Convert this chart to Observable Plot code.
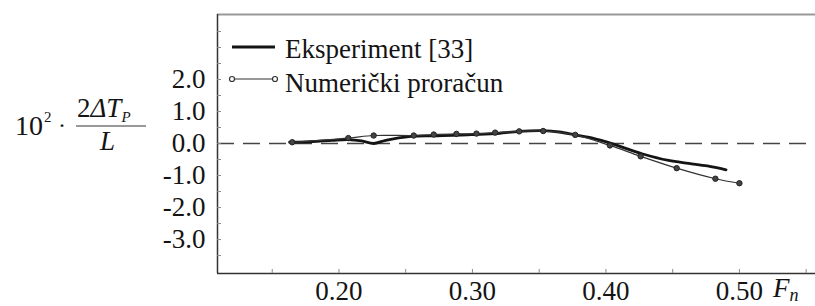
<!DOCTYPE html>
<html><head><meta charset="utf-8">
<script src="https://cdn.jsdelivr.net/npm/d3@7"></script>
<script src="https://cdn.jsdelivr.net/npm/@observablehq/plot@0.6"></script>
<style>body{margin:0;background:#fff} svg{display:block} svg text{font-family:"Liberation Serif","Times New Roman",serif !important}</style>
</head><body><div id="chart"></div>
<script>
// Eksperiment [33] (thick line)
const expFn  = [0.163, 0.180, 0.195, 0.207, 0.217, 0.226, 0.235, 0.254, 0.270, 0.290, 0.305, 0.317, 0.335, 0.353, 0.365, 0.377, 0.390, 0.397, 0.410, 0.427, 0.447, 0.462, 0.476, 0.490];
const expVal = [0.04, 0.06, 0.10, 0.12, 0.08, 0.00, 0.10, 0.22, 0.24, 0.26, 0.29, 0.31, 0.38, 0.40, 0.36, 0.27, 0.17, 0.09, -0.08, -0.32, -0.53, -0.62, -0.70, -0.82];
// Numerički proračun (thin line with dots)
const numFn  = [0.165, 0.207, 0.226, 0.256, 0.271, 0.288, 0.303, 0.317, 0.335, 0.353, 0.377, 0.403, 0.426, 0.453, 0.482, 0.500];
const numVal = [0.04, 0.17, 0.25, 0.25, 0.28, 0.30, 0.31, 0.34, 0.38, 0.39, 0.27, -0.06, -0.40, -0.77, -1.10, -1.24];

const xTickLabels = [0.20, 0.30, 0.40, 0.50];
const yTickLabels = [2, 1, 0, -1, -2, -3];
const xMinorTicks = [0.15, 0.20, 0.25, 0.30, 0.35, 0.40, 0.45, 0.50, 0.55];
const yMinorTicks = [-3.5, -3, -2.5, -2, -1.5, -1, -0.5, 0, 0.5, 1, 1.5, 2, 2.5, 3, 3.5];
const seriesNames = ["Eksperiment [33]", "Numerički proračun"];
const xDomain = [0.109, 0.557];
const yDomain = [-4.06, 4.03];

const exp = expFn.map((x, i) => ({x, y: expVal[i]}));
const num = numFn.map((x, i) => ({x, y: numVal[i]}));

const font = "Liberation Serif, Times New Roman, serif";
const ink = "#141414";

const chart = Plot.plot({
  width: 815, height: 306,
  marginLeft: 217, marginRight: 0, marginTop: 14, marginBottom: 33,
  style: {fontFamily: font, background: "white", color: ink},
  x: {domain: xDomain, label: null},
  y: {domain: yDomain, label: null},
  marks: [
    Plot.ruleY([0], {stroke: "#444", strokeWidth: 1.5, strokeDasharray: "17,9"}),
    Plot.ruleY([yDomain[1]], {stroke: "#999", strokeWidth: 2}),
    Plot.ruleX([xDomain[0]], {stroke: "#333", strokeWidth: 1.5}),
    Plot.ruleY([yDomain[0]], {stroke: "#333", strokeWidth: 1.5}),
    Plot.axisY(yMinorTicks, {tickSize: 4, dx: 4, tickFormat: () => "", stroke: "#888", label: null}),
    Plot.axisX(xMinorTicks, {tickSize: 4, dy: -4, tickFormat: () => "", stroke: "#888", label: null}),
    Plot.axisY(yTickLabels, {tickSize: 0, tickPadding: 12, fontSize: 27, tickFormat: d => d.toFixed(1), label: null}),
    Plot.axisX(xTickLabels, {tickSize: 0, tickPadding: 7, fontSize: 27, tickFormat: d => d.toFixed(2), label: null}),
    Plot.line(exp, {x: "x", y: "y", curve: "catmull-rom", stroke: ink, strokeWidth: 2.8}),
    Plot.line(num, {x: "x", y: "y", curve: "catmull-rom", stroke: "#333", strokeWidth: 1.2}),
    Plot.dot(num, {x: "x", y: "y", r: 2.7, fill: "#444", stroke: "#222", strokeWidth: 1})
  ]
});
document.getElementById("chart").appendChild(chart);

const svg = d3.select(chart);
const g = svg.append("g").attr("font-family", font).attr("text-anchor", "start").attr("fill", ink);

// Y label: 10^2 · 2ΔT_P / L
g.append("text").attr("x", 15).attr("y", 135).attr("font-size", 28).text("10");
g.append("text").attr("x", 44).attr("y", 122).attr("font-size", 15).text("2");
g.append("text").attr("x", 58).attr("y", 133).attr("font-size", 24).text("·");
const numer = g.append("text").attr("x", 77).attr("y", 117).attr("font-size", 27);
numer.append("tspan").text("2");
numer.append("tspan").attr("font-style", "italic").text("ΔT");
numer.append("tspan").attr("font-style", "italic").attr("font-size", 15).attr("dy", 5).text("P");
g.append("line").attr("x1", 76).attr("x2", 146).attr("y1", 126).attr("y2", 126).attr("stroke", "#333").attr("stroke-width", 1.2);
g.append("text").attr("x", 100).attr("y", 150).attr("font-size", 27).attr("font-style", "italic").text("L");

// X label F_n
const fn = g.append("text").attr("x", 773).attr("y", 297).attr("font-size", 27).attr("font-style", "italic");
fn.append("tspan").text("F");
fn.append("tspan").attr("font-size", 18).attr("dy", 4).text("n");

// Legend
g.append("line").attr("x1", 232).attr("x2", 275).attr("y1", 47).attr("y2", 47).attr("stroke", ink).attr("stroke-width", 2.8);
g.append("text").attr("x", 285).attr("y", 58).attr("font-size", 27).text(seriesNames[0]);
g.append("line").attr("x1", 232).attr("x2", 275).attr("y1", 79).attr("y2", 79).attr("stroke", "#333").attr("stroke-width", 1.2);
[232, 275].forEach(cx => g.append("circle").attr("cx", cx).attr("cy", 79).attr("r", 2.5).attr("fill", "white").attr("stroke", "#333").attr("stroke-width", 1.2));
g.append("text").attr("x", 285).attr("y", 92).attr("font-size", 27).text(seriesNames[1]);
</script>
</body></html>
